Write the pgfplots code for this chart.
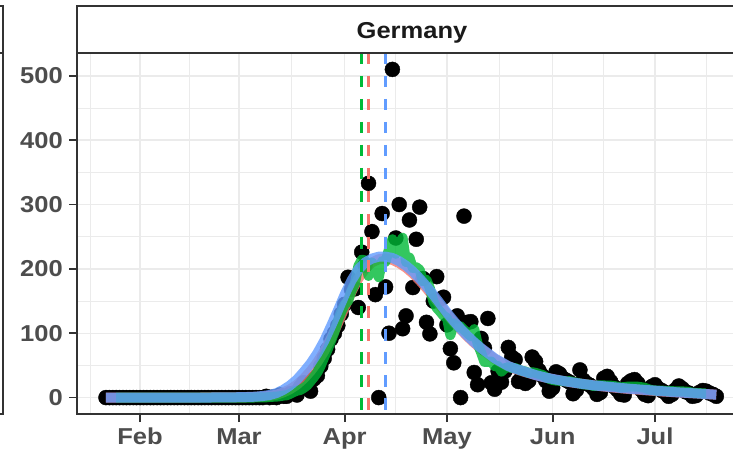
\documentclass[border=0pt]{standalone}
\usepackage{fontspec}
\setmainfont{Liberation Sans}[FakeStretch=1.11]
\usepackage{pgfplots}
\pgfplotsset{compat=1.18}
\usepackage{pgfplotstable}
\definecolor{ggblue}{HTML}{619CFF}
\definecolor{gggreen}{HTML}{00BA38}
\definecolor{ggred}{HTML}{F8766D}
\definecolor{framec}{HTML}{333333}
\definecolor{gridc}{HTML}{EBEBEB}
\definecolor{ticklab}{HTML}{4D4D4D}
\definecolor{striptext}{HTML}{1A1A1A}

% daily values (day of year 2020)
\pgfplotstableread{
d v
22 0
23 0
24 0
25 0
26 0
27 0
28 0
29 0
30 0
31 0
32 0
33 0
34 0
35 0
36 0
37 0
38 0
39 0
40 0
41 0
42 0
43 0
44 0
45 0
46 0
47 0
48 0
49 0
50 0
51 0
52 0
53 0
54 0
55 0
56 0
57 0
58 0
59 0
60 0
61 0
62 0
63 0
64 0
65 0
66 0
67 0
68 0
69 2
70 0
71 1
72 0
73 4
74 2
75 2
76 6
77 7
78 4
79 16
80 23
81 17
82 10
83 29
84 34
85 49
86 61
87 75
88 91
89 100
90 112
91 130
92 145
93 187
94 168
95 169
96 140
97 226
98 206
99 333
100 258
101 160
102 0
103 286
104 172
105 100
106 510
107 248
108 300
109 107
110 127
111 276
112 171
113 246
114 296
115 185
116 117
117 99
118 150
119 188
120 153
121 156
122 113
123 76
124 54
125 127
126 0
127 282
128 117
129 118
130 39
131 20
132 92
133 77
134 123
135 23
136 13
137 41
138 24
139 41
140 78
141 63
142 59
143 25
144 33
145 22
146 26
147 63
148 56
149 42
150 34
151 26
152 10
153 15
154 40
155 37
156 30
157 27
158 24
159 6
160 12
161 43
162 27
163 22
164 19
165 14
166 5
167 8
168 30
169 33
170 25
171 17
172 12
173 5
174 4
175 22
176 26
177 28
178 22
179 12
180 5
181 3
182 17
183 20
184 14
185 11
186 8
187 2
188 5
189 12
190 18
191 14
192 9
193 7
194 2
195 3
196 8
197 11
198 10
199 7
200 5
201 2
}\pts

% 7-day centred average
\pgfplotstableread{
d v
25 0
65 0
66 0.29
67 0.29
68 0.43
69 0.43
70 1.0
71 1.29
72 1.57
73 2.14
74 3.14
75 3.57
76 5.86
77 8.57
78 10.7
79 11.9
80 15.1
81 19.0
82 25.4
83 31.9
84 39.3
85 49.9
86 62.7
87 74.6
88 88.3
89 102
90 120
91 133.3
92 144.4
93 150.1
94 166.4
95 177.3
96 204.1
97 214.3
98 213.1
99 189
100 209.9
101 202.1
102 187
103 212.3
104 210.9
105 230.9
106 246.1
107 223.4
108 238.3
109 248.4
110 210.7
111 217.6
112 201.1
113 202.6
114 198.6
115 180.6
116 183
117 169.7
118 149.7
119 139.4
120 133.6
121 127.1
122 123.9
123 97
124 115.4
125 109.9
126 110.6
127 105.3
128 100.4
129 95.4
130 106.4
131 83.7
132 70.3
133 55.3
134 55.6
135 56.1
136 48.9
137 49
138 40.4
139 45.6
140 47.3
141 46.1
142 45.9
143 43.7
144 41.6
145 40.6
146 38.1
147 39.4
148 38.4
149 36.7
150 35.1
151 31.9
152 29.1
153 27.4
154 26.4
155 26.1
156 25.6
157 25.1
158 25.6
159 24.1
160 23
161 21.9
162 20.4
163 20.3
164 19.7
165 17.9
166 18.7
167 19.1
168 18.9
169 18.6
170 18.6
171 18
172 16.9
173 15.9
174 16.3
175 17
176 17
177 17
178 16.9
179 16.1
180 15.3
181 13.3
182 11.7
183 11.1
184 10.7
185 11
186 10.3
187 10
188 10
189 9.7
190 9.6
191 9.6
192 9.3
193 8.7
194 7.7
195 7.1
196 6.9
197 6.6
198 6.6
}\greencurve

% smooth fit (blue)
\pgfplotstableread{
d v
22 0
30 0
40 0
50 0
60 0.5
64 1
66 1.5
68 2.5
70 4
72 7
74 12
76 19
78 28
80 40
82 53
84 69
86 88
88 111
90 135
92 160
94 182
96 199
98 210
100 216
102 219
104 219
106 217
108 212
110 205
112 196
114 185
116 173
118 160
120 146
122 132
124 119
126 107
128 96
130 86
132 77
134 69
136 61
138 55
140 49
142 45
145 40
148 35
151 31
154 28
157 25
160 22.5
165 19
170 16.5
175 14
180 12
185 10
190 8
195 6.5
201 4.5
}\bluecurve

% second fit (red)
\pgfplotstableread{
d v
22 0
40 0
60 0.3
64 0.6
66 1
68 1.6
70 2.6
72 4.5
74 8
76 13
78 20
80 29.5
82 41
84 55
86 72
88 92
90 115
92 140
94 164
96 185
98 200
100 210
102 215
104 216
106 214
108 209
110 202
112 193
114 182
116 170
118 157
120 143
122 130
124 117
126 106
128 95
130 85
132 76
134 68
136 60
138 54
140 48.5
142 44.5
145 39.5
148 35
151 31
154 27.5
157 25
160 22.5
165 19
170 16
175 13.5
180 11.5
185 9.5
190 8
195 6.5
201 4.5
}\redcurve

\begin{document}
\begin{tikzpicture}[x=1pt,y=1pt]
\fill[white] (0,0) rectangle (733,453);
% edge of the neighbouring panel
\draw[framec, line width=1.8pt] (-6,447) -- (3,447) -- (3,39) -- (-6,39);
\draw[framec, line width=1.8pt] (-6,400) -- (3,400);
\begin{axis}[
  at={(77pt,39pt)}, anchor=south west,
  scale only axis, width=670pt, height=361pt,
  xmin=13.5, xmax=210, ymin=-25.5, ymax=535.5,
  xtick={32,61,92,122,153,183},
  xticklabels={Feb,Mar,Apr,May,Jun,Jul},
  ytick={0,100,200,300,400,500},
  minor xtick={17.5,46.5,76.5,107,137.5,168,198},
  minor ytick={50,150,250,350,450},
  grid=both,
  major grid style={color=gridc, line width=1.4pt},
  minor grid style={color=gridc, line width=0.7pt},
  tick align=outside, tick pos=left,
  major tick length=8pt, minor tick length=0pt,
  tick style={color=framec, line width=1.8pt},
  axis line style={color=framec, line width=1.8pt},
  /pgf/number format/assume math mode=true,
  ticklabel style={font=\fontsize{23}{23}\selectfont\bfseries, text=ticklab},
  yticklabel style={anchor=east, inner sep=0pt, xshift=-6pt},
  xticklabel style={anchor=base, inner sep=0pt, yshift=-22pt},
  clip mode=individual,
]
\addplot[only marks, mark=*, mark size=7.5pt, mark options={fill=black, draw=black}] table[x=d, y=v] {\pts};
\addplot[ggred, line width=10pt, draw opacity=0.8, line join=round] table[x=d, y=v] {\redcurve};
\addplot[gggreen, line width=10pt, draw opacity=0.8, line join=round] table[x=d, y=v] {\greencurve};
\addplot[ggblue, line width=10pt, draw opacity=0.8, line join=round] table[x=d, y=v] {\bluecurve};
\addplot[gggreen, line width=2.6pt, dash pattern=on 11.5pt off 11.5pt] coordinates {(97,535.5) (97,-25.5)};
\addplot[ggred, line width=2.6pt, dash pattern=on 11.5pt off 11.5pt] coordinates {(99,535.5) (99,-25.5)};
\addplot[ggblue, line width=2.6pt, dash pattern=on 11.5pt off 11.5pt] coordinates {(104,535.5) (104,-25.5)};
\end{axis}
\draw[fill=white, draw=framec, line width=1.8pt] (77,400) rectangle (770,447);
\node[anchor=base, inner sep=0pt, font=\fontsize{23}{23}\selectfont\bfseries, text=striptext] at (412,414.7) {Germany};
\pgfresetboundingbox
\useasboundingbox (0,0) rectangle (733,453);
\end{tikzpicture}
\end{document}
